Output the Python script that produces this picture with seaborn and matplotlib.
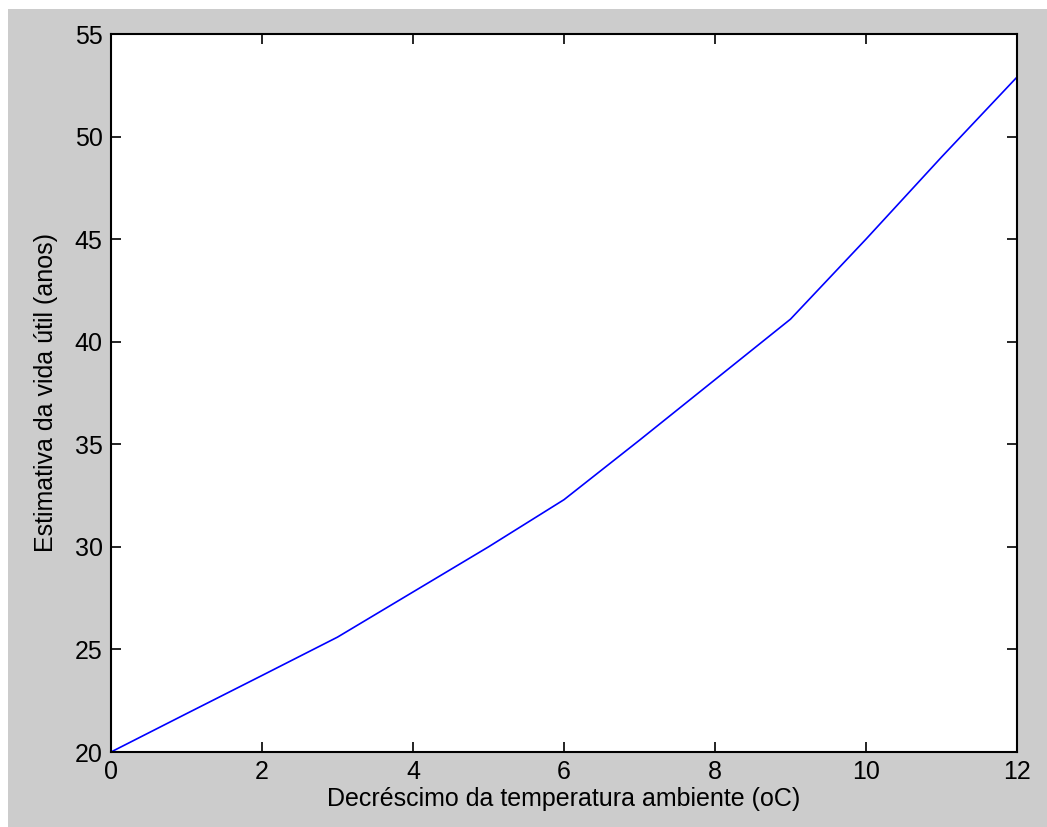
import matplotlib
matplotlib.use("Agg")
import matplotlib.pyplot as plt
import seaborn as sns
import pandas as pd
from matplotlib.patches import Rectangle

# Data
temp_decrease = [0, 1, 2, 3, 4, 5, 6, 7, 8, 9, 10, 11, 12]
life_years = [20.0, 21.87, 23.73, 25.6, 27.8, 30.0, 32.3, 35.2, 38.15, 41.1, 45.0, 49.0, 52.9]
x_ticks = [0, 2, 4, 6, 8, 10, 12]
y_ticks = [20, 25, 30, 35, 40, 45, 50, 55]

sns.set_style("ticks")
plt.rcParams['font.family'] = ['Liberation Sans', 'DejaVu Sans']
plt.rcParams['text.color'] = 'black'
plt.rcParams['axes.labelcolor'] = 'black'

df = pd.DataFrame({"x": temp_decrease, "y": life_years})

fig = plt.figure(figsize=(10.47, 8.27), dpi=100, facecolor="#cccccc")
# white strips at top and left edge (screenshot border)
fig.patches.append(Rectangle((0, 1 - 9 / 827), 1, 9 / 827, transform=fig.transFigure,
                             facecolor="white", edgecolor="none", zorder=0))
fig.patches.append(Rectangle((0, 0), 8 / 1047, 1, transform=fig.transFigure,
                             facecolor="white", edgecolor="none", zorder=0))

ax = fig.add_axes([111 / 1047, 75 / 827, (1017 - 111) / 1047, (752 - 34) / 827])
ax.set_facecolor("white")
sns.lineplot(data=df, x="x", y="y", ax=ax, color="#0000ff", linewidth=1.2)

ax.set_xlim(0, 12)
ax.set_ylim(20, 55)
ax.set_xticks(x_ticks)
ax.set_yticks(y_ticks)
ax.tick_params(direction="in", top=True, right=True, length=7, width=1.2,
               labelsize=18, colors="black", pad=6)
for s in ax.spines.values():
    s.set_visible(True)
    s.set_linewidth(1.5)
    s.set_color("black")

ax.set_xlabel("Decréscimo da temperatura ambiente (oC)", fontsize=18, labelpad=2, color="black")
ax.set_ylabel("Estimativa da vida útil (anos)", fontsize=18, labelpad=12, color="black")

fig.savefig("out.png", dpi=100, facecolor=fig.get_facecolor())
